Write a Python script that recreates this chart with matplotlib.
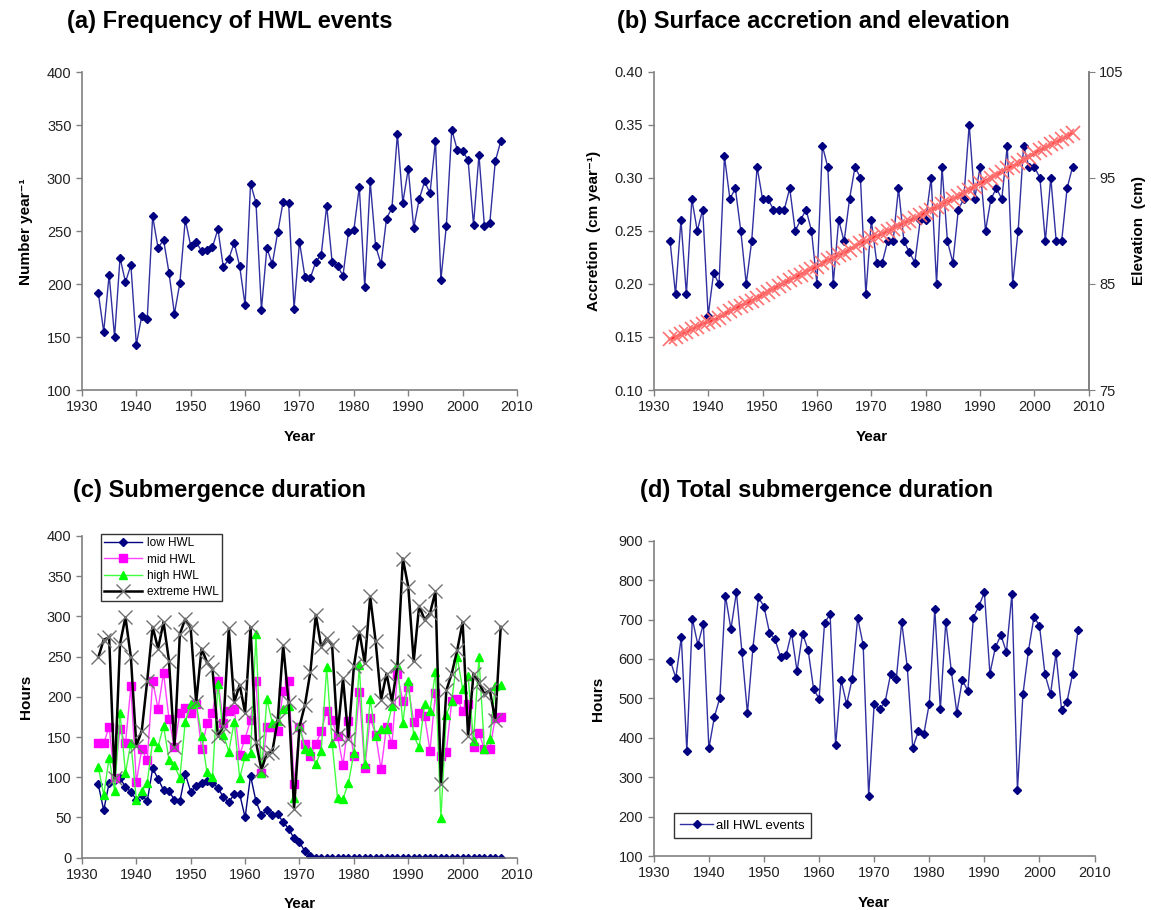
import numpy as np
import matplotlib
matplotlib.use("Agg")
import matplotlib.pyplot as plt

plt.rcParams['font.family'] = ['Liberation Sans', 'DejaVu Sans']

years = list(range(1933, 2008))

# (a) number of HWL events per year
hwl_count = [192, 155, 209, 150, 225, 202, 218, 143, 170, 167,
             264, 234, 242, 211, 172, 201, 261, 236, 240, 231,
             232, 235, 252, 216, 224, 239, 217, 180, 295, 277,
             176, 234, 219, 249, 278, 277, 177, 240, 207, 206,
             221, 228, 274, 221, 217, 208, 249, 251, 292, 197,
             297, 236, 219, 262, 272, 342, 277, 309, 253, 280,
             297, 286, 335, 204, 255, 346, 327, 326, 317, 256,
             322, 255, 258, 316, 335]

# (b) accretion (cm/yr)
accretion = [0.24, 0.19, 0.26, 0.19, 0.28, 0.25, 0.27, 0.17, 0.21, 0.20,
             0.32, 0.28, 0.29, 0.25, 0.20, 0.24, 0.31, 0.28, 0.28, 0.27,
             0.27, 0.27, 0.29, 0.25, 0.26, 0.27, 0.25, 0.20, 0.33, 0.31,
             0.20, 0.26, 0.24, 0.28, 0.31, 0.30, 0.19, 0.26, 0.22, 0.22,
             0.24, 0.24, 0.29, 0.24, 0.23, 0.22, 0.26, 0.26, 0.30, 0.20,
             0.31, 0.24, 0.22, 0.27, 0.28, 0.35, 0.28, 0.31, 0.25, 0.28,
             0.29, 0.28, 0.33, 0.20, 0.25, 0.33, 0.31, 0.31, 0.30, 0.24,
             0.30, 0.24, 0.24, 0.29, 0.31]
elev_start = 79.56  # surface elevation before 1933 (cm)
elevation = elev_start + np.cumsum(accretion)

# (c) submergence duration (hours)
low_hwl = [91, 59, 93, 97, 99, 88, 82, 72, 78, 70,
           111, 98, 84, 83, 72, 70, 104, 82, 89, 93,
           95, 93, 87, 75, 69, 79, 79, 50, 102, 70,
           53, 59, 53, 54, 44, 36, 24, 19, 8, 2] + [0] * 35
mid_hwl = [143, 142, 163, 99, 160, 142, 213, 94, 135, 121,
           220, 185, 230, 173, 137, 180, 186, 180, 191, 135,
           167, 180, 220, 168, 183, 185, 128, 148, 171, 220,
           105, 162, 162, 158, 207, 220, 92, 162, 141, 126,
           141, 157, 183, 171, 151, 115, 170, 127, 206, 111,
           174, 153, 110, 163, 141, 228, 195, 212, 169, 180,
           176, 133, 205, 126, 131, 195, 197, 183, 191, 137,
           155, 135, 135, 174, 175]
high_hwl = [113, 78, 124, 83, 180, 105, 143, 72, 83, 93,
            145, 138, 164, 122, 115, 99, 169, 191, 193, 151,
            106, 100, 216, 153, 132, 169, 99, 126, 130, 278,
            105, 197, 168, 170, 185, 188, 74, 164, 135, 133,
            116, 133, 237, 143, 74, 73, 93, 130, 239, 116,
            197, 151, 160, 160, 188, 240, 168, 220, 152, 137,
            191, 183, 231, 49, 178, 195, 249, 210, 226, 145,
            249, 135, 147, 214, 215]
extreme_hwl = [249, 271, 274, 99, 266, 299, 249, 139, 158, 220,
               287, 260, 293, 245, 137, 278, 297, 285, 193, 260,
               243, 235, 151, 164, 285, 193, 215, 180, 287, 144,
               109, 130, 132, 171, 264, 194, 61, 163, 190, 231,
               302, 262, 273, 264, 153, 223, 148, 238, 281, 242,
               325, 269, 196, 229, 194, 238, 372, 337, 244, 313,
               296, 304, 331, 92, 208, 229, 258, 293, 151, 229,
               217, 204, 208, 171, 287]

# (d) total submergence duration (hours)
total_hours = [596, 552, 655, 366, 702, 636, 689, 373, 453, 502,
               761, 676, 769, 618, 462, 629, 756, 733, 667, 650,
               605, 609, 667, 569, 664, 624, 524, 499, 692, 713,
               381, 547, 485, 549, 704, 636, 253, 486, 472, 492,
               563, 548, 693, 580, 374, 416, 409, 487, 727, 472,
               695, 569, 464, 547, 519, 705, 734, 769, 563, 630,
               660, 618, 766, 268, 511, 621, 707, 684, 561, 511,
               614, 471, 492, 562, 674]

xticks = list(range(1930, 2011, 10))
navy = '#000080'
line_blue = '#3030a0'
spine_col = '#808080'


def style_axis(ax, right=False):
    ax.spines['top'].set_visible(False)
    ax.spines['right'].set_visible(right)
    for s in ['left', 'bottom', 'right']:
        ax.spines[s].set_color(spine_col)
        ax.spines[s].set_linewidth(1.2)
    ax.tick_params(direction='out', length=4, color=spine_col, labelsize=10.5,
                   labelcolor='#222222', width=1)
    ax.set_xlim(1930, 2010)
    ax.set_xticks(xticks)
    ax.set_xlabel('Year', fontsize=11, fontweight='bold', labelpad=11)


fig = plt.figure(figsize=(11.51, 9.10), dpi=100)

# (a)
ax_a = fig.add_axes([0.0712, 0.5714, 0.378, 0.349])
ax_a.plot(years, hwl_count, color=line_blue, lw=1, marker='D', ms=4.5,
          mfc=navy, mec=navy)
ax_a.set_ylim(100, 400)
ax_a.set_yticks(range(100, 401, 50))
style_axis(ax_a)
ax_a.set_ylabel('Number year⁻¹', fontsize=11, fontweight='bold', labelpad=10)
fig.text(0.058, 0.976, '(a) Frequency of HWL events', fontsize=17,
         fontweight='bold', va='center')

# (b)
ax_b = fig.add_axes([0.568, 0.5714, 0.378, 0.350])
ax_b.plot(years, accretion, color=line_blue, lw=1, marker='D', ms=4.5,
          mfc=navy, mec=navy)
ax_b.set_ylim(0.10, 0.40)
ax_b.set_yticks(np.arange(0.10, 0.401, 0.05))
ax_b.yaxis.set_major_formatter(matplotlib.ticker.FormatStrFormatter('%.2f'))
style_axis(ax_b, right=True)
ax_b.set_ylabel('Accretion  (cm year⁻¹)', fontsize=11, fontweight='bold',
                labelpad=10)
ax_b2 = ax_b.twinx()
ax_b2.plot(years, elevation, color='#ff1a1a', lw=2, marker='x', ms=10,
           mec='#ff7070', mew=1.2)
ax_b2.set_ylim(75, 105)
ax_b2.set_yticks([75, 85, 95, 105])
ax_b2.spines['top'].set_visible(False)
ax_b2.spines['right'].set_color(spine_col)
ax_b2.spines['right'].set_linewidth(1.2)
ax_b2.spines['left'].set_visible(False)
ax_b2.spines['bottom'].set_visible(False)
ax_b2.tick_params(direction='out', length=4, color=spine_col, labelsize=10.5,
                  labelcolor='#222222')
ax_b2.set_ylabel('Elevation  (cm)', fontsize=11, fontweight='bold', labelpad=6)
fig.text(0.536, 0.976, '(b) Surface accretion and elevation', fontsize=17,
         fontweight='bold', va='center')

# (c)
ax_c = fig.add_axes([0.0712, 0.0575, 0.378, 0.3535])
ax_c.plot(years, low_hwl, color=navy, lw=1, marker='D', ms=4, mfc=navy,
          mec=navy, label='low HWL')
ax_c.plot(years, mid_hwl, color='#ff40ff', lw=1, marker='s', ms=5.5,
          mfc='#ff00ff', mec='#ff00ff', label='mid HWL')
ax_c.plot(years, high_hwl, color='#40ff40', lw=1, marker='^', ms=5.5,
          mfc='#00ff00', mec='#00ff00', label='high HWL')
ax_c.plot(years, extreme_hwl, color='black', lw=1.8, marker='x', ms=10,
          mec='#707070', mew=1, label='extreme HWL')
ax_c.set_ylim(0, 400)
ax_c.set_yticks(range(0, 401, 50))
style_axis(ax_c)
ax_c.set_ylabel('Hours', fontsize=11, fontweight='bold', labelpad=10)
leg_c = ax_c.legend(loc='upper left', bbox_to_anchor=(0.03, 1.025),
                    fontsize=8.5, frameon=True, fancybox=False,
                    edgecolor='black', borderpad=0.3, labelspacing=0.35,
                    handlelength=3.2, handletextpad=0.4)
leg_c.get_frame().set_linewidth(1)
fig.text(0.063, 0.461, '(c) Submergence duration', fontsize=17,
         fontweight='bold', va='center')

# (d)
ax_d = fig.add_axes([0.568, 0.0593, 0.383, 0.3465])
ax_d.plot(years, total_hours, color=line_blue, lw=1, marker='D', ms=4.5,
          mfc=navy, mec=navy, label='all HWL events')
ax_d.set_ylim(100, 900)
ax_d.set_yticks(range(100, 901, 100))
style_axis(ax_d)
ax_d.set_ylabel('Hours', fontsize=11, fontweight='bold', labelpad=10)
leg_d = ax_d.legend(loc='lower left', bbox_to_anchor=(0.03, 0.035),
                    fontsize=9.5, frameon=True, fancybox=False,
                    edgecolor='black', borderpad=0.5, handlelength=2.5,
                    handletextpad=0.2)
leg_d.get_frame().set_linewidth(1)
fig.text(0.556, 0.461, '(d) Total submergence duration', fontsize=17,
         fontweight='bold', va='center')

fig.savefig('out.png', dpi=100)
